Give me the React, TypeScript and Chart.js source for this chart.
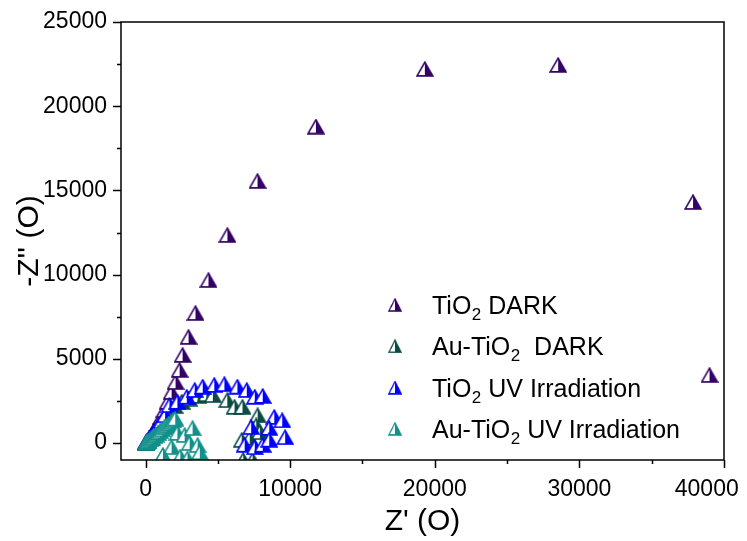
import React, { useEffect, useRef } from 'react';
import { Chart, registerables } from 'chart.js';

Chart.register(...registerables);

// ---- data ----
const tio2DarkX = [30, 120, 250, 400, 550, 700, 900, 1100, 1300, 1520, 1800, 2070, 2350, 2560, 2970, 3450, 4350, 5660, 7740, 11780, 19310, 28530, 37860, 39000];
const tio2DarkY = [30, 130, 280, 450, 650, 900, 1200, 1550, 1950, 2440, 3030, 3620, 4340, 5230, 6300, 7720, 9680, 12350, 15560, 18790, 22210, 22450, 14310, 4040];

const auDarkX = [30, 150, 350, 550, 800, 1050, 1300, 1600, 2000, 2500, 3000, 3600, 4200, 4650, 5650, 6150, 6700, 7750, 7650, 6650, 7200, 7900, 6750, 7400];
const auDarkY = [30, 130, 330, 550, 800, 1100, 1450, 1850, 2200, 2450, 2650, 2800, 2900, 2850, 2550, 2150, 2150, 1650, 1050, 180, 300, 650, -1000, -1000];

const tio2UvX = [40, 120, 260, 450, 650, 850, 1100, 1350, 1650, 2200, 2850, 3400, 3950, 4750, 5450, 6350, 7000, 7550, 8100, 8900, 9450, 7300, 8550, 9650, 6850, 7550, 8100, 8550];
const tio2UvY = [40, 120, 280, 500, 750, 1000, 1300, 1650, 2250, 2450, 2750, 3150, 3350, 3450, 3500, 3350, 3150, 2750, 2800, 1550, 1350, 950, 900, 350, -100, -250, -100, 200];

const auUvX = [20, 100, 200, 320, 450, 580, 720, 860, 1000, 1150, 1300, 1450, 1600, 1750, 1900, 2050, 2200, 2700, 3250, 3050, 3600, 1800, 3750, 1200, 2400, 2900];
const auUvY = [15, 80, 150, 230, 320, 410, 510, 610, 710, 820, 930, 1040, 1150, 1250, 1350, 1450, 600, 480, 890, 0, -120, -240, -550, -700, -800, -900];

const seriesLabels = ['TiO₂ DARK', 'Au-TiO₂  DARK', 'TiO₂ UV Irradiation', 'Au-TiO₂ UV Irradiation'];
const legendParts: [string, string, string][] = [
  ['TiO', '2', ' DARK'],
  ['Au-TiO', '2', '  DARK'],
  ['TiO', '2', ' UV Irradiation'],
  ['Au-TiO', '2', ' UV Irradiation'],
];
const seriesColors = ['#330066', '#0B4B44', '#0000FF', '#129089'];

const xTickValues = [0, 10000, 20000, 30000, 40000];
const yTickValues = [0, 5000, 10000, 15000, 20000, 25000];
const xMinorValues = [5000, 15000, 25000, 35000];
const yMinorValues = [2500, 7500, 12500, 17500, 22500];

const FONT = 'Liberation Sans, Arial, sans-serif';

function makeMarker(color: string, w: number, h: number, lw: number) {
  const c = document.createElement('canvas');
  c.width = w;
  c.height = h;
  const ctx = c.getContext('2d')!;
  const m = lw / 2 + 0.3;
  const tx = w / 2, ty = m, lx = m, rx = w - m, by = h - m;
  ctx.beginPath();
  ctx.moveTo(tx, ty); ctx.lineTo(rx, by); ctx.lineTo(lx, by); ctx.closePath();
  ctx.fillStyle = '#ffffff';
  ctx.fill();
  ctx.beginPath();
  ctx.moveTo(tx, ty); ctx.lineTo(rx, by); ctx.lineTo(tx, by); ctx.closePath();
  ctx.fillStyle = color;
  ctx.fill();
  ctx.beginPath();
  ctx.moveTo(tx, ty); ctx.lineTo(rx, by); ctx.lineTo(lx, by); ctx.closePath();
  ctx.strokeStyle = color;
  ctx.lineWidth = lw;
  ctx.lineJoin = 'miter';
  ctx.stroke();
  return c;
}

const framePlugin = {
  id: 'frameTicksLegend',
  afterDraw(chart: any) {
    const { ctx, chartArea, scales } = chart;
    const { left, top, right, bottom } = chartArea;
    ctx.save();
    ctx.strokeStyle = '#000';
    ctx.lineWidth = 1.5;
    ctx.strokeRect(left, top, right - left, bottom - top);
    ctx.beginPath();
    xTickValues.forEach((v) => {
      const p = Math.round(scales.x.getPixelForValue(v)) + 0.5;
      ctx.moveTo(p, bottom); ctx.lineTo(p, bottom + 8);
    });
    xMinorValues.forEach((v) => {
      const p = Math.round(scales.x.getPixelForValue(v)) + 0.5;
      ctx.moveTo(p, bottom); ctx.lineTo(p, bottom + 4);
    });
    yTickValues.forEach((v) => {
      const p = Math.round(scales.y.getPixelForValue(v)) + 0.5;
      ctx.moveTo(left, p); ctx.lineTo(left - 8, p);
    });
    yMinorValues.forEach((v) => {
      const p = Math.round(scales.y.getPixelForValue(v)) + 0.5;
      ctx.moveTo(left, p); ctx.lineTo(left - 4, p);
    });
    ctx.stroke();

    // legend
    const lx = left + 274;
    const ly0 = top + 283;
    const gap = 41.3;
    legendParts.forEach((parts, i) => {
      const y = ly0 + i * gap;
      const img = chart.data.datasets[i].pointStyle as HTMLCanvasElement;
      ctx.drawImage(img, lx - 7, y - 7, 14, 14);
      let x = lx + 37;
      ctx.fillStyle = '#000';
      ctx.textBaseline = 'alphabetic';
      ctx.textAlign = 'left';
      ctx.font = `25px ${FONT}`;
      const base = y + 9;
      ctx.fillText(parts[0], x, base);
      x += ctx.measureText(parts[0]).width;
      ctx.font = `17px ${FONT}`;
      ctx.fillText(parts[1], x + 0.5, base + 6);
      x += ctx.measureText(parts[1]).width + 0.5;
      ctx.font = `25px ${FONT}`;
      ctx.fillText(parts[2], x, base);
    });
    ctx.restore();
  },
};

function toPoints(xs: number[], ys: number[]) {
  return xs.map((x, i) => ({ x, y: ys[i] }));
}

export default function App() {
  const ref = useRef<HTMLCanvasElement>(null);
  useEffect(() => {
    document.body.style.margin = '0';
    const markers = seriesColors.map((c) => makeMarker(c, 18, 16, 1.6));
    const series = [
      toPoints(tio2DarkX, tio2DarkY),
      toPoints(auDarkX, auDarkY),
      toPoints(tio2UvX, tio2UvY),
      toPoints(auUvX, auUvY),
    ];
    const chart = new Chart(ref.current!, {
      type: 'scatter',
      data: {
        datasets: series.map((data, i) => ({
          label: seriesLabels[i],
          data,
          pointStyle: markers[i],
          pointRadius: 9,
          borderColor: seriesColors[i],
          backgroundColor: seriesColors[i],
          order: 4 - i,
          clip: 0,
        })),
      },
      options: {
        animation: false,
        responsive: false,
        devicePixelRatio: 1,
        layout: { padding: { left: 0, top: 22, right: 23, bottom: 0 } },
        plugins: { legend: { display: false }, tooltip: { enabled: false } },
        scales: {
          x: {
            type: 'linear',
            min: -1700,
            max: 40000,
            afterBuildTicks: (s: any) => {
              s.ticks = xTickValues.map((v) => ({ value: v }));
            },
            afterFit: (s: any) => {
              s.height = 81;
              s.paddingLeft = 0;
              s.paddingRight = 0;
            },
            ticks: {
              color: '#000',
              font: { family: FONT, size: 23 },
              padding: 16,
              maxRotation: 0,
              autoSkip: false,
              // the last label sits shifted left so it stays inside the picture
              callback: (v: any) => (v === 40000 ? String(v) + '\u2003\u2002' : String(v)),
            },
            grid: { display: false, drawTicks: false },
            border: { display: false },
            title: {
              display: true,
              text: "Z' (O)",
              color: '#000',
              font: { family: FONT, size: 30 },
              padding: { top: 0, bottom: 1 },
            },
          },
          y: {
            type: 'linear',
            min: -1000,
            max: 25000,
            afterBuildTicks: (s: any) => {
              s.ticks = yTickValues.map((v) => ({ value: v }));
            },
            afterFit: (s: any) => {
              s.width = 121;
              s.paddingTop = 0;
              s.paddingBottom = 0;
            },
            ticks: {
              color: '#000',
              font: { family: FONT, size: 23 },
              padding: 14,
              autoSkip: false,
              callback: (v: any) => String(v),
            },
            grid: { display: false, drawTicks: false },
            border: { display: false },
            title: {
              display: true,
              text: "-Z'' (O)",
              color: '#000',
              font: { family: FONT, size: 30 },
              padding: { top: 12, bottom: 0 },
            },
          },
        },
      },
      plugins: [framePlugin],
    } as any);
    return () => chart.destroy();
  }, []);
  return (
    <div style={{ position: 'absolute', left: 0, top: 0, width: 747, height: 541, background: '#fff' }}>
      <canvas ref={ref} width={747} height={541} style={{ display: 'block' }} />
    </div>
  );
}
